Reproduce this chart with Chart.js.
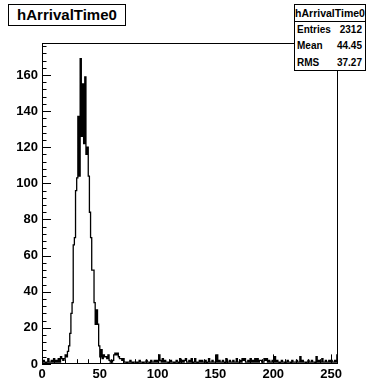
<!DOCTYPE html>
<html>
<head>
<meta charset="utf-8">
<script src="https://cdn.jsdelivr.net/npm/chart.js@4/dist/chart.umd.min.js"></script>
<style>
  body { margin: 0; background: #fff; }
  #wrap { position: relative; width: 366px; height: 386px; font-family: "Liberation Sans", Arial, sans-serif; }
  #title { position: absolute; left: 8px; top: 4px; width: 118px; height: 22px; box-sizing: border-box;
           border: 1px solid #000; background: #fff; font-weight: bold; font-size: 15px; line-height: 20px; text-align: center; }
  #stats { position: absolute; left: 294px; top: 4px; width: 72px; height: 67px; box-sizing: border-box;
           border: 1px solid #000; background: #fff; font-weight: bold; }
  #stats .head { height: 16px; line-height: 16px; font-size: 10.5px; text-align: center; border-bottom: 1px solid #000; white-space: nowrap; overflow: hidden; }
  #stats .row { height: 16.3px; line-height: 16.3px; font-size: 10px; padding: 0 3px 0 2px; display: flex; justify-content: space-between; }
</style>
</head>
<body>
<div id="wrap">
  <canvas id="hist" width="366" height="386"></canvas>
  <div id="title"></div>
  <div id="stats"></div>
</div>
<script>
// histogram name and stats box
const histName = 'hArrivalTime0';
const statLabels = ['Entries', 'Mean', 'RMS'];
const statValues = ['2312', '44.45', '37.27'];

// bin contents, 256 bins of width 1 from 0 to 256
const binCounts = [
  1, 2, 1, 0, 1, 3, 1, 1, 2, 1, 3, 1, 2, 1, 3, 1, 4, 3, 2, 3, 5, 4, 7,
  10, 17, 28, 34, 66, 70, 96, 103, 137, 104, 169, 126, 155, 122, 159, 116, 120, 104,
  84, 70, 52, 52, 34, 22, 30, 22, 10, 4, 8, 3,
  5, 4, 4, 3, 5, 2, 1, 1,
  2, 5, 6, 5, 6, 4, 3, 3, 2, 3,
  1, 1, 0, 1, 1, 2, 1, 0, 1, 1,
  1, 0, 1, 2, 1, 1, 0, 1, 1, 2,
  1, 1, 0, 2, 1, 1, 2, 1, 2, 1,
  5, 2, 1, 3, 1, 2, 1, 1, 0, 1,
  2, 1, 1, 0, 1, 2, 1, 0, 3, 1,
  2, 1, 2, 3, 1, 1, 2, 1, 3, 0,
  1, 3, 1, 0, 1, 2, 1, 2, 1, 1,
  2, 0, 1, 3, 1, 1, 2, 1, 1, 1,
  5, 1, 2, 1, 1, 2, 1, 0, 3, 1,
  1, 2, 1, 1, 2, 1, 1, 3, 1, 1,
  2, 1, 3, 2, 3, 1, 1, 2, 1, 3,
  1, 2, 1, 3, 1, 3, 1, 2, 2, 1,
  1, 3, 2, 3, 1, 2, 1, 1, 2, 1,
  4, 1, 2, 1, 0, 1, 2, 1, 1, 0,
  1, 2, 1, 1, 0, 2, 1, 1, 1, 2,
  1, 1, 4, 1, 2, 1, 1, 0, 1, 2,
  1, 1, 2, 1, 1, 0, 4, 1, 2, 1,
  1, 3, 1, 1, 2, 1, 1, 2, 1, 2,
  1, 1, 2, 1, 5
];

const xTickValues = [0, 50, 100, 150, 200, 250];
const yTickValues = [0, 20, 40, 60, 80, 100, 120, 140, 160];

const xMin = 0, xMax = 256;
const yMax = 177.7;
const xMinorStep = 10, yMinorStep = 4;

document.getElementById('title').textContent = histName;
const stats = document.getElementById('stats');
let html = '<div class="head">' + histName + '</div>';
statLabels.forEach((lab, i) => {
  html += '<div class="row"><span>' + lab + '</span><span>' + statValues[i] + '</span></div>';
});
stats.innerHTML = html;

// points at left bin edges, plus the right edge of the last bin
const points = binCounts.map((c, i) => ({ x: xMin + i, y: c }));
points.push({ x: xMax, y: binCounts[binCounts.length - 1] });

// ROOT style frame with inward ticks
const rootFrame = {
  id: 'rootFrame',
  afterDatasetsDraw(chart) {
    const { ctx, chartArea: a, scales: { x, y } } = chart;
    ctx.save();
    ctx.strokeStyle = '#000';
    ctx.lineWidth = 1;
    ctx.beginPath();
    for (let v = 0; v <= xMax; v += xMinorStep) {
      const px = Math.round(x.getPixelForValue(v)) + 0.5;
      const len = xTickValues.includes(v) ? 9.6 : 4.8;
      ctx.moveTo(px, a.bottom);
      ctx.lineTo(px, a.bottom - len);
    }
    for (let v = 0; v <= yMax; v += yMinorStep) {
      const py = Math.round(y.getPixelForValue(v)) + 0.5;
      const len = yTickValues.includes(v) ? 9 : 4.5;
      ctx.moveTo(a.left, py);
      ctx.lineTo(a.left + len, py);
    }
    ctx.stroke();
    ctx.strokeRect(Math.round(a.left) + 0.5, Math.round(a.top) + 0.5,
                   Math.round(a.right - a.left) - 1, Math.round(a.bottom - a.top) - 1);
    ctx.restore();
  }
};

const tickFont = { family: '"Liberation Sans", Arial, sans-serif', size: 13, weight: 'bold' };

new Chart(document.getElementById('hist'), {
  type: 'line',
  data: {
    datasets: [{
      data: points,
      stepped: true,
      borderColor: '#000',
      borderWidth: 1.3,
      pointRadius: 0,
      fill: false
    }]
  },
  options: {
    responsive: false,
    animation: false,
    devicePixelRatio: 1,
    layout: { padding: { top: 43, right: 28, left: 0, bottom: 0 } },
    plugins: { legend: { display: false }, tooltip: { enabled: false } },
    scales: {
      x: {
        type: 'linear',
        min: xMin,
        max: xMax,
        border: { display: false },
        grid: { display: false, drawTicks: false },
        afterBuildTicks: s => { s.ticks = xTickValues.map(v => ({ value: v })); },
        afterFit: s => { s.height = 22; },
        ticks: { color: '#000', font: tickFont, padding: 3, maxRotation: 0, autoSkip: false }
      },
      y: {
        min: 0,
        max: yMax,
        border: { display: false },
        grid: { display: false, drawTicks: false },
        afterBuildTicks: s => { s.ticks = yTickValues.map(v => ({ value: v })); },
        afterFit: s => { s.width = 42; },
        ticks: { color: '#000', font: tickFont, padding: 4 }
      }
    }
  },
  plugins: [rootFrame]
});
</script>
</body>
</html>
